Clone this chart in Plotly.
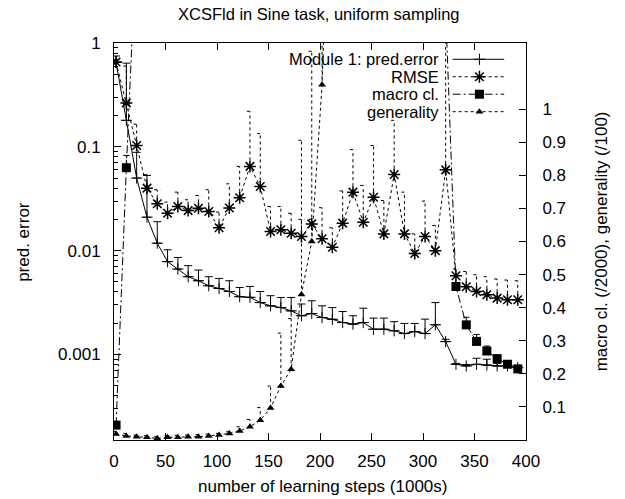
import math
import plotly.graph_objects as go

# ---------------- data ----------------
steps = [2, 12, 22, 32, 42, 52, 62, 72, 82, 92,
         102, 112, 122, 132, 142, 152, 162, 172, 182, 192,
         202, 212, 222, 232, 242, 252, 262, 272, 282, 292,
         302, 312, 322, 332, 342, 352, 362, 372, 382, 392]

pred_err = [0.65, 0.18, 0.050, 0.021, 0.0118, 0.00784, 0.00665, 0.00561, 0.00513, 0.00459,
            0.00432, 0.00404, 0.0036, 0.00355, 0.00316, 0.00294, 0.00283, 0.00263, 0.00236, 0.00248,
            0.00227, 0.00218, 0.00203, 0.00196, 0.00203, 0.00175, 0.00175, 0.00169, 0.00159, 0.00166,
            0.00159, 0.00193, 0.00133, 0.000804, 0.000775, 0.000804, 0.00079, 0.000775, 0.000775, 0.000747]
pred_err_top = [0.75, 0.64, 0.0885, 0.053, 0.019, 0.0102, 0.0086, 0.00716, 0.0065, 0.00561,
                0.0054, 0.00513, 0.00442, 0.00452, 0.00404, 0.00368, 0.00354, 0.00354, 0.00306, 0.00329,
                0.00294, 0.00283, 0.00259, 0.00236, 0.00279, 0.00224, 0.00224, 0.00207, 0.00199, 0.00199,
                0.00219, 0.00316, 0.0014, 0.00082, 0.0008, 0.00092, 0.0009, 0.00082, 0.0008, 0.00076]

rmse = [0.655, 0.265, 0.103, 0.040, 0.0283, 0.0229, 0.0266, 0.0243, 0.0256, 0.0238,
        0.0166, 0.0258, 0.0323, 0.0648, 0.0415, 0.0153, 0.0159, 0.0147, 0.0137, 0.0181,
        0.013, 0.0108, 0.0184, 0.0366, 0.0188, 0.0327, 0.0145, 0.0542, 0.0145, 0.0094,
        0.0137, 0.0100, 0.060, 0.00573, 0.00449, 0.00404, 0.00376, 0.00349, 0.00336, 0.00336]
rmse_top = [0.68, 0.6, 0.165, 0.054, 0.0386, 0.0293, 0.0366, 0.0309, 0.034, 0.0386,
            0.0235, 0.044, 0.0648, 0.22, 0.134, 0.0266, 0.0266, 0.0229, 0.02, 0.02,
            0.0259, 0.0166, 0.0376, 0.094, 0.0425, 0.103, 0.0304, 0.18, 0.0366, 0.0145,
            0.030, 0.0175, 1.5, 0.00665, 0.0063, 0.00586, 0.00561, 0.00533, 0.00521, 0.00513]

# macro classifiers (/2000), right axis
macro_cl = [0.045, 0.823, 1.53, 1.71, 1.80, 1.86, 1.90, 1.93, 1.95, 1.96,
            1.97, 1.97, 1.96, 1.95, 1.93, 1.91, 1.88, 1.85, 1.81, 1.77,
            1.73, 1.69, 1.65, 1.61, 1.57, 1.53, 1.49, 1.46, 1.43, 1.40,
            1.37, 1.34, 1.30, 0.464, 0.348, 0.298, 0.269, 0.246, 0.229, 0.215]
macro_cl_top = [0.05, 0.86, 1.6, 1.8, 1.9, 1.9, 2.0, 2.0, 2.0, 2.0,
                2.0, 2.0, 2.0, 2.0, 2.0, 2.0, 1.9, 1.9, 1.9, 1.8,
                1.8, 1.8, 1.7, 1.7, 1.6, 1.6, 1.6, 1.5, 1.5, 1.5,
                1.4, 1.4, 1.4, 0.47, 0.371, 0.319, 0.284, 0.256, 0.236, 0.22]

# generality (/100), right axis
generality = [0.018, 0.012, 0.010, 0.008, 0.005, 0.008, 0.008, 0.010, 0.010, 0.012,
              0.015, 0.020, 0.027, 0.040, 0.060, 0.097, 0.163, 0.214, 0.44, 0.60,
              1.074, 2.5, 2.9, 3.1, 3.2, 3.3, 3.3, 3.4, 3.4, 3.5,
              3.5, 3.6, 3.6, 3.7, 3.7, 3.8, 3.8, 3.8, 3.9, 3.9]
generality_top = [0.026, 0.02, 0.015, 0.013, 0.01, 0.013, 0.014, 0.015, 0.016, 0.018,
                  0.02, 0.025, 0.04, 0.062, 0.098, 0.163, 0.323, 0.367, 0.906, 1.175,
                  1.35, 2.8, 3.2, 3.4, 3.5, 3.6, 3.6, 3.7, 3.7, 3.8,
                  3.8, 3.9, 3.9, 4.0, 4.0, 4.1, 4.1, 4.1, 4.2, 4.2]

legend_names = ["Module 1: pred.error", "RMSE", "macro cl.", "generality"]

FONT = "Liberation Sans, Arial, Helvetica, sans-serif"
FS = 17
BLACK = "#000000"
DOT = "3px,3px"
DASHDOT = "8px,3px,2px,3px"


def bar_segments(xs, ys, tops, half=3.0):
    bx, by = [], []
    for x, y, t in zip(xs, ys, tops):
        if t is None or t <= y:
            continue
        bx += [x, x, None, x - half, x + half, None]
        by += [y, t, None, t, t, None]
    return bx, by


PLUS = dict(symbol="cross-thin", size=8, color=BLACK, line=dict(color=BLACK, width=1))
STAR = dict(symbol="asterisk", size=10, color=BLACK, line=dict(color=BLACK, width=1.5))
SQUARE = dict(symbol="square", size=9, color=BLACK)
TRI = dict(symbol="triangle-up", size=7, color=BLACK)

fig = go.Figure()

# pred. error (solid, + markers, upward error bars)
fig.add_trace(go.Scatter(
    x=steps, y=pred_err, mode="lines+markers", name=legend_names[0], showlegend=False,
    line=dict(color=BLACK, width=1), marker=PLUS,
    error_y=dict(type="data", symmetric=False,
                 array=[t - v for t, v in zip(pred_err_top, pred_err)],
                 arrayminus=[0] * len(pred_err), color=BLACK, thickness=1, width=4),
))

# RMSE
bx, by = bar_segments(steps, rmse, rmse_top)
fig.add_trace(go.Scatter(x=bx, y=by, mode="lines", showlegend=False, hoverinfo="skip",
                         line=dict(color=BLACK, width=1, dash=DOT)))
fig.add_trace(go.Scatter(
    x=steps, y=rmse, mode="lines+markers", name=legend_names[1], showlegend=False,
    line=dict(color=BLACK, width=1, dash=DOT), marker=STAR,
))

# macro cl. (right axis)
bx, by = bar_segments(steps, macro_cl, macro_cl_top)
fig.add_trace(go.Scatter(x=bx, y=by, yaxis="y2", mode="lines", showlegend=False, hoverinfo="skip",
                         line=dict(color=BLACK, width=1, dash=DASHDOT)))
fig.add_trace(go.Scatter(
    x=steps, y=macro_cl, yaxis="y2", mode="lines+markers", name=legend_names[2], showlegend=False,
    line=dict(color=BLACK, width=1, dash=DASHDOT), marker=SQUARE,
))

# generality (right axis)
bx, by = bar_segments(steps, generality, generality_top)
fig.add_trace(go.Scatter(x=bx, y=by, yaxis="y2", mode="lines", showlegend=False, hoverinfo="skip",
                         line=dict(color=BLACK, width=1, dash=DOT)))
fig.add_trace(go.Scatter(
    x=steps, y=generality, yaxis="y2", mode="lines+markers", name=legend_names[3], showlegend=False,
    line=dict(color=BLACK, width=1, dash=DOT), marker=TRI,
))

# ---------------- gnuplot-style key (text right-aligned, sample to the right) ----------------
key_rows = [0.959, 0.915, 0.871, 0.827]
key_styles = [(None, PLUS), (DOT, STAR), (DASHDOT, SQUARE), (DOT, TRI)]
annotations = []
for name, yk, (dash, mk) in zip(legend_names, key_rows, key_styles):
    ln = dict(color=BLACK, width=1)
    if dash:
        ln["dash"] = dash
    fig.add_trace(go.Scatter(x=[0.822, 0.947], y=[yk, yk], xaxis="x3", yaxis="y3",
                             mode="lines", line=ln, showlegend=False, hoverinfo="skip"))
    fig.add_trace(go.Scatter(x=[0.887], y=[yk], xaxis="x3", yaxis="y3",
                             mode="markers", marker=mk, showlegend=False, hoverinfo="skip"))
    annotations.append(dict(text=name, xref="paper", yref="paper", x=0.793, y=yk,
                            xanchor="right", yanchor="middle", showarrow=False,
                            font=dict(family=FONT, size=16.5, color=BLACK)))

# titles
annotations += [
    dict(text="XCSFld in Sine task, uniform sampling", xref="paper", yref="paper",
         x=0.497, y=1.072, xanchor="center", yanchor="middle", showarrow=False,
         font=dict(family=FONT, size=16.5, color=BLACK)),
    dict(text="number of learning steps (1000s)", xref="paper", yref="paper",
         x=0.505, y=-0.118, xanchor="center", yanchor="middle", showarrow=False,
         font=dict(family=FONT, size=FS, color=BLACK)),
    dict(text="pred. error", xref="paper", yref="paper", textangle=-90,
         x=-0.22, y=0.5, xanchor="center", yanchor="middle", showarrow=False,
         font=dict(family=FONT, size=FS, color=BLACK)),
    dict(text="macro cl. (/2000), generality (/100)", xref="paper", yref="paper", textangle=-90,
         x=1.184, y=0.5, xanchor="center", yanchor="middle", showarrow=False,
         font=dict(family=FONT, size=FS, color=BLACK)),
]

minor_vals = []
for e in range(-4, 0):
    for m in range(2, 10):
        v = m * 10 ** e
        if v > 1.5e-4:
            minor_vals.append(v)

axis_common = dict(showgrid=False, zeroline=False, showline=True, linecolor=BLACK, linewidth=1,
                   ticks="inside", tickcolor=BLACK, tickwidth=1, ticklen=7,
                   tickfont=dict(family=FONT, size=FS, color=BLACK))

fig.update_layout(
    width=625, height=499, autosize=False,
    margin=dict(l=114, r=99, t=43, b=59, pad=0),
    paper_bgcolor="white", plot_bgcolor="white",
    showlegend=False,
    font=dict(family=FONT, size=FS, color=BLACK),
    xaxis=dict(range=[0, 400], tickvals=[0, 50, 100, 150, 200, 250, 300, 350, 400],
               mirror="ticks", ticklabelstandoff=6, **axis_common),
    yaxis=dict(type="log", range=[math.log10(1.5e-4), 0],
               tickvals=[0.001, 0.01, 0.1, 1], ticktext=["0.001", "0.01", "0.1", "1"],
               ticklabelstandoff=9,
               minor=dict(ticks="inside", ticklen=4, tickcolor=BLACK, tickwidth=1, tickvals=minor_vals),
               **axis_common),
    yaxis2=dict(overlaying="y", side="right", range=[0, 1.2],
                tickvals=[0.1, 0.2, 0.3, 0.4, 0.5, 0.6, 0.7, 0.8, 0.9, 1.0],
                ticktext=["0.1", "0.2", "0.3", "0.4", "0.5", "0.6", "0.7", "0.8", "0.9", "1"],
                ticklabelstandoff=12, **axis_common),
    xaxis3=dict(overlaying="x", range=[0, 1], visible=False, fixedrange=True),
    yaxis3=dict(overlaying="y", range=[0, 1], visible=False, fixedrange=True),
    annotations=annotations,
)

fig.write_html("out.html")
